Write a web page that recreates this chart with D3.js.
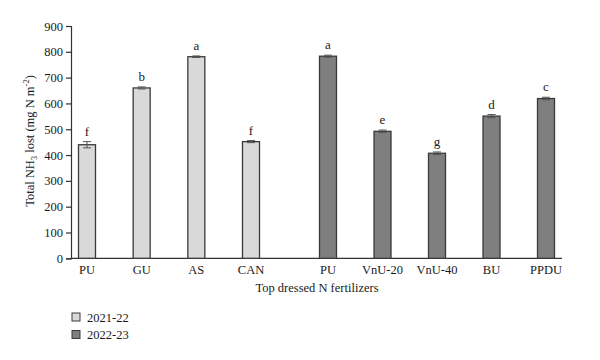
<!DOCTYPE html>
<html><head><meta charset="utf-8">
<script src="https://cdn.jsdelivr.net/npm/d3@7"></script>
<style>body{margin:0;background:#fff}svg{display:block}text{font-family:"Liberation Serif","DejaVu Serif",serif;fill:#1a1a1a}</style>
</head><body><svg id="c" width="600" height="360"></svg>
<script>
(function(){
const seasons = ["2021-22", "2022-23"];
const cats1 = ["PU", "GU", "AS", "CAN"];
const vals1 = [440, 660, 781, 452];
const errs1 = [12, 4, 3, 4];
const sig1 = ["f", "b", "a", "f"];
const cats2 = ["PU", "VnU-20", "VnU-40", "BU", "PPDU"];
const vals2 = [783, 492, 407, 551, 619];
const errs2 = [4, 5, 5, 6, 5];
const sig2 = ["a", "e", "g", "d", "c"];
const yTicks = [0,100,200,300,400,500,600,700,800,900];

const svg = d3.select("#c");
const mLeft = 71, mRight = 562, mTop = 26, mBottom = 258.3;
const fs = "12.5px";
const y = d3.scaleLinear().domain([0, 900]).range([mBottom, mTop]);
const x1 = d3.scalePoint().domain(cats1).range([87, 251]);
const x2 = d3.scalePoint().domain(cats2).range([328, 546]);
const bw = 17;
const fills = ["#d9d9d9", "#7f7f7f"];
const stroke = "#3a3a3a";

const ya = svg.append("g").attr("transform", `translate(${mLeft},0)`)
  .call(d3.axisLeft(y).tickValues(yTicks).tickSize(5).tickPadding(3));
ya.select(".domain").attr("stroke", "#333").attr("stroke-width", 1.2);
ya.selectAll(".tick line").attr("stroke", "#333").attr("stroke-width", 1.2);
ya.selectAll(".tick text").style("font-family", '"Liberation Serif",serif').style("font-size", fs).attr("fill", "#1a1a1a");

svg.append("line").attr("x1", mLeft).attr("x2", mRight).attr("y1", mBottom).attr("y2", mBottom)
  .attr("stroke", "#333").attr("stroke-width", 1.2);

function group(cats, vals, errs, sig, xs, fill) {
  const data = cats.map((c, i) => ({c, v: vals[i], e: errs[i], s: sig[i], cx: xs(c)}));
  const g = svg.append("g");
  g.selectAll("rect").data(data).join("rect")
    .attr("x", d => d.cx - bw/2).attr("width", bw)
    .attr("y", d => y(d.v)).attr("height", d => mBottom - y(d.v))
    .attr("fill", fill).attr("stroke", stroke).attr("stroke-width", 1.3);
  data.forEach(d => {
    const t = y(d.v + d.e), b = y(d.v - d.e);
    g.append("line").attr("x1", d.cx).attr("x2", d.cx).attr("y1", t).attr("y2", b).attr("stroke", "#555").attr("stroke-width", 1);
    g.append("line").attr("x1", d.cx - 4).attr("x2", d.cx + 4).attr("y1", t).attr("y2", t).attr("stroke", "#555").attr("stroke-width", 1);
    g.append("line").attr("x1", d.cx - 4).attr("x2", d.cx + 4).attr("y1", b).attr("y2", b).attr("stroke", "#555").attr("stroke-width", 1);
    g.append("text").attr("x", d.cx).attr("y", t - 6).attr("text-anchor", "middle").style("font-size", "13px").text(d.s);
    g.append("text").attr("x", d.cx).attr("y", mBottom + 16).attr("text-anchor", "middle").style("font-size", fs).text(d.c);
  });
}
group(cats1, vals1, errs1, sig1, x1, fills[0]);
group(cats2, vals2, errs2, sig2, x2, fills[1]);

svg.append("text").attr("x", 317).attr("y", 292).attr("text-anchor", "middle").style("font-size", fs).text("Top dressed N fertilizers");
const yt = svg.append("text").attr("transform", "translate(34,141) rotate(-90)").attr("text-anchor", "middle").style("font-size", fs);
yt.append("tspan").text("Total NH");
yt.append("tspan").attr("dy", 3).style("font-size", "8.5px").text("3");
yt.append("tspan").attr("dy", -3).text(" lost (mg N m");
yt.append("tspan").attr("dy", -5).style("font-size", "8.5px").text("-2");
yt.append("tspan").attr("dy", 5).text(")");

seasons.forEach((s, i) => {
  const ly = 317 + i * 17.5;
  svg.append("rect").attr("x", 72).attr("y", ly - 4).attr("width", 8).attr("height", 8)
    .attr("fill", fills[i]).attr("stroke", stroke).attr("stroke-width", 1);
  svg.append("text").attr("x", 87).attr("y", ly + 4.5).style("font-size", fs).text(s);
});
})();
</script></body></html>
